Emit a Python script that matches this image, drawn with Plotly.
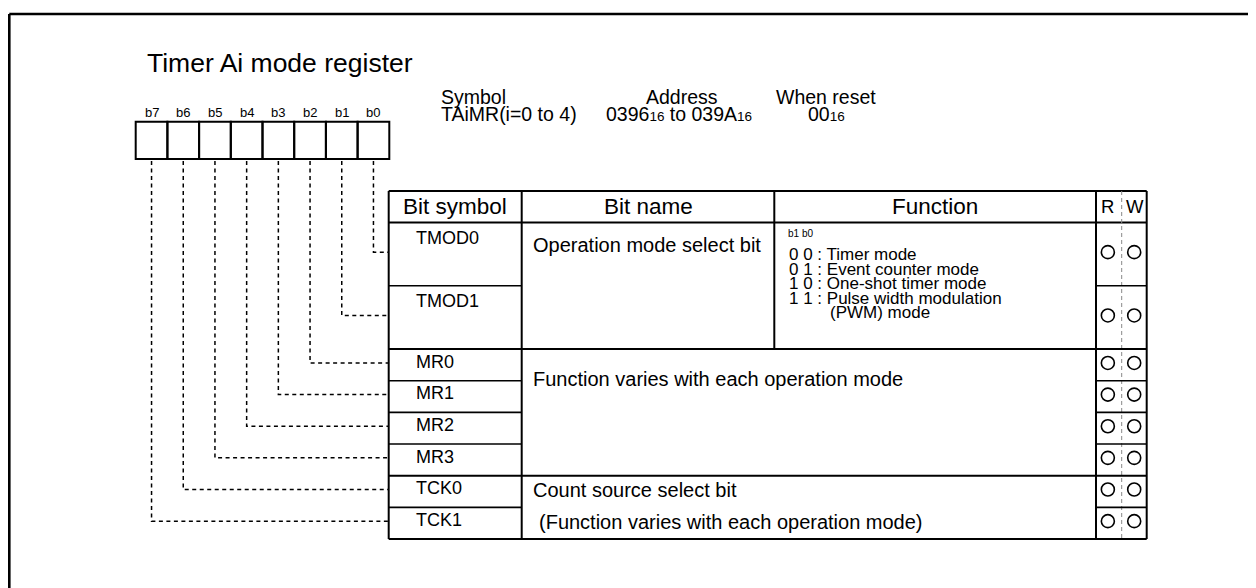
import plotly.graph_objects as go

# ---------------- data ----------------
title_text = "Timer Ai mode register"
bit_labels = ["b7", "b6", "b5", "b4", "b3", "b2", "b1", "b0"]
info_heads = ["Symbol", "Address", "When reset"]
SUB = "<span style='font-size:13.5px'>16</span>"
info_values = ["TAiMR(i=0 to 4)", f"0396{SUB} to 039A{SUB}", f"00{SUB}"]
header_labels = ["Bit symbol", "Bit name", "Function", "R", "W"]
bit_symbols = ["TMOD0", "TMOD1", "MR0", "MR1", "MR2", "MR3", "TCK0", "TCK1"]   # b0 .. b7
row_units = [2, 2, 1, 1, 1, 1, 1, 1]
readable = [1, 1, 1, 1, 1, 1, 1, 1]
writable = [1, 1, 1, 1, 1, 1, 1, 1]
# groups of rows sharing the bit name / function cells: (first row, last row, split name|function)
groups = [(0, 1, True), (2, 5, False), (6, 7, False)]
group_names = [["Operation mode select bit"],
               ["Function varies with each operation mode"],
               ["Count source select bit", "(Function varies with each operation mode)"]]
func_caption = "b1 b0"
func_lines = ["0 0 : Timer mode", "0 1 : Event counter mode", "1 0 : One-shot timer mode",
              "1 1 : Pulse width modulation", "(PWM) mode"]

# ---------------- layout constants (picture pixels) ----------------
W, H = 1256, 588
OFF = 8  # page body margin in front of the figure
FONT = "Liberation Sans, Arial, Helvetica, sans-serif"
box_x0, box_w, box_top, box_h = 135.7, 31.7, 121.7, 37.3
cols = [388.7, 521.7, 774.3, 1096.0, 1121.7, 1146.7]
tbl_top, hdr_h, unit_h = 191.0, 31.5, 31.65
func_indent = [0, 0, 0, 0, 41]

shapes, annos = [], []


def line(x0, y0, x1, y1, width=2, color="black", dash=None):
    ln = dict(color=color, width=width)
    if dash:
        ln["dash"] = dash
    shapes.append(dict(type="line", xref="x", yref="y", x0=x0, y0=y0, x1=x1, y1=y1, line=ln))


def text(x, y, s, size, anchor="left", yanchor="middle"):
    annos.append(dict(x=x, y=y, xref="x", yref="y", text=s, showarrow=False, xanchor=anchor,
                      yanchor=yanchor, align="left", font=dict(family=FONT, size=size, color="black")))


# outer frame (top and left edges visible)
line(9.3, 14, W + 10, 14, width=2.6)
line(9.3, 14, 9.3, H + 10, width=2.6)

# title and info
text(145, 63, title_text, 26.5)
text(439, 96.5, info_heads[0], 19.5)
text(682, 96.5, info_heads[1], 19.5, anchor="center")
text(826, 96.5, info_heads[2], 19.5, anchor="center")
text(439, 113.5, info_values[0], 19.5)
text(604, 113.5, info_values[1], 19.5)
text(806, 113.5, info_values[2], 19.5)

# register boxes
for i, lab in enumerate(bit_labels):
    x0 = box_x0 + i * box_w
    shapes.append(dict(type="rect", xref="x", yref="y", x0=x0, x1=x0 + box_w, y0=box_top,
                       y1=box_top + box_h, line=dict(color="black", width=2)))
    text(x0 + box_w / 2, 112.5, lab, 13, anchor="center")

# row boundaries
row_tops = []
y = tbl_top + hdr_h
for u in row_units:
    row_tops.append(y)
    y += u * unit_h
tbl_bot = y
row_bots = row_tops[1:] + [tbl_bot]

# header
hy = tbl_top + hdr_h / 2
text((cols[0] + cols[1]) / 2, hy, header_labels[0], 22.5, anchor="center")
text((cols[1] + cols[2]) / 2, hy, header_labels[1], 22.5, anchor="center")
text((cols[2] + cols[3]) / 2, hy, header_labels[2], 22.5, anchor="center")
text((cols[3] + cols[4]) / 2 - 1, hy, header_labels[3], 18.5, anchor="center")
text((cols[4] + cols[5]) / 2 + 0.5, hy, header_labels[4], 18.5, anchor="center")

# grid lines
line(cols[0], tbl_top, cols[5], tbl_top)
line(cols[0], tbl_top + hdr_h, cols[5], tbl_top + hdr_h)
line(cols[0], tbl_bot, cols[5], tbl_bot)
for c in (cols[0], cols[1], cols[3], cols[5]):
    line(c, tbl_top, c, tbl_bot)
line(cols[4], tbl_top, cols[4], tbl_bot, width=1, color="#888888", dash="4px,3px")

for gi, (r0, r1, split) in enumerate(groups):
    gtop, gbot = row_tops[r0], row_bots[r1]
    if gi < len(groups) - 1:
        line(cols[0], gbot, cols[5], gbot)
    for r in range(r0, r1):
        line(cols[0], row_bots[r], cols[1], row_bots[r], width=1.6)
        line(cols[3], row_bots[r], cols[5], row_bots[r], width=1.6)
    names = group_names[gi]
    if split:
        line(cols[2], tbl_top, cols[2], gbot)
        text(cols[1] + 9, gtop + 22.5, names[0], 20)
        text(cols[2] + 12, gtop + 11, func_caption, 10)
        for k, fl in enumerate(func_lines):
            text(cols[2] + 12.5 + func_indent[k], gtop + 32 + k * 14.6, fl, 17)
    elif gi == 1:
        text(cols[1] + 9, gtop + 29.5, names[0], 20)
    else:
        for k, gl in enumerate(names):
            text(cols[1] + 9 + (6 if k else 0), gtop + 14 + k * 32.5, gl, 20)

# bit symbols, connectors, R/W circles
rx, ry, wx, wy = [], [], [], []
for b, sym in enumerate(bit_symbols):
    top = row_tops[b]
    mid = (row_tops[b] + row_bots[b]) / 2
    text(cols[0] + 25, top + 15.5 if row_units[b] > 1 else top + 12.5, sym, 18)
    bx = box_x0 + (7 - b + 0.5) * box_w
    shapes.append(dict(type="path", xref="x", yref="y",
                       path=f"M {bx},{box_top + box_h + 2} L {bx},{mid - 2} L {cols[0]},{mid - 2}",
                       line=dict(color="black", width=1.5, dash="4px,3.5px")))
    if readable[b]:
        rx.append((cols[3] + cols[4]) / 2 - 1)
        ry.append(mid - 2)
    if writable[b]:
        wx.append((cols[4] + cols[5]) / 2)
        wy.append(mid - 2)

fig = go.Figure()
fig.add_trace(go.Scatter(x=rx + wx, y=ry + wy, mode="markers", hoverinfo="skip",
                         marker=dict(symbol="circle-open", size=13, color="black",
                                     line=dict(width=1.6, color="black"))))
fig.update_layout(width=W - OFF, height=H - OFF, margin=dict(l=0, r=0, t=0, b=0),
                  paper_bgcolor="white", plot_bgcolor="white", showlegend=False,
                  xaxis=dict(range=[OFF, W], visible=False, fixedrange=True),
                  yaxis=dict(range=[H, OFF], visible=False, fixedrange=True),
                  shapes=shapes, annotations=annos)
fig.write_html("out.html")
